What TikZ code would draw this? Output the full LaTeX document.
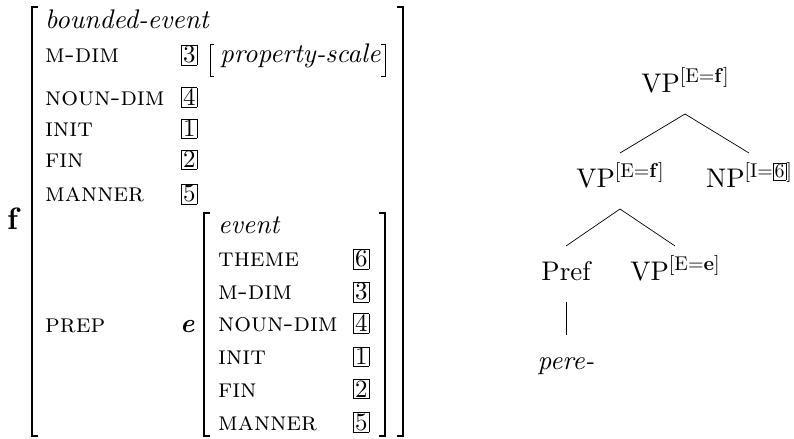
\documentclass[tikz,border=0pt]{standalone}
\usepackage{amsmath}
\usepackage{fontspec}
\setmainfont{lmroman10}[Extension=.otf, UprightFont=*-regular, BoldFont=*-bold,
  ItalicFont=*-italic, BoldItalicFont=*-bolditalic, SmallCapsFont=lmromancaps10-regular]
\usepackage{tikz}

% boxed tags and raised features
\newcommand{\bx}[1]{{\setlength{\fboxsep}{1.2bp}\setlength{\fboxrule}{0.6bp}\fbox{#1}}}
\newcommand{\sfeat}[1]{\raisebox{10bp}{\fontsize{20}{24}\selectfont[#1]}}

\tikzset{
  lbl/.style={inner sep=0pt, anchor=base west, font=\fontsize{27}{32}\selectfont},
  feat/.style={lbl, font=\fontsize{26.5}{32}\selectfont\scshape},
  tagn/.style={lbl, font=\fontsize{25}{30}\selectfont},
  brk/.style={line width=2bp},
  thinbrk/.style={line width=1bp},
  cat/.style={inner sep=0pt, anchor=base, text height=14bp, text depth=0pt,
    outer ysep=21bp, font=\fontsize{27}{32}\selectfont},
  branch/.style={line width=0.7bp}
}

\begin{document}
\begin{tikzpicture}[x=1bp,y=-1bp]
  \useasboundingbox (0,0) rectangle (794,439);

  % outer matrix
  \node[lbl, font=\fontsize{31}{36}\selectfont] (f) at (7,230) {\textbf{f}};
  \draw[brk] (38,7) -- (32,7) -- (32,436) -- (38,436);
  \draw[brk] (397,7) -- (403,7) -- (403,436) -- (397,436);
  \node[lbl] (btype) at (45,29) {\textit{bounded-event}};
  \foreach \f/\t/\y in {m-dim/3/63, noun-dim/4/106, init/1/137, fin/2/168, manner/5/202} {
    \node[feat] (of-\t) at (45,\y) {\f};
    \node[tagn] (ot-\t) at (181,\y) {\bx{\t}};
  }
  \draw[thinbrk] (214,45) -- (210,45) -- (210,77) -- (214,77);
  \draw[thinbrk] (381,45) -- (385,45) -- (385,77) -- (381,77);
  \node[lbl] (scale) at (220,63) {\textit{property-scale}};
  \node[feat] (prep) at (45,333) {prep};

  % inner matrix
  \node[lbl] (e) at (180,333) {\textbf{\textit{e}}};
  \draw[brk] (210,213) -- (204,213) -- (204,436) -- (210,436);
  \draw[brk] (379,213) -- (385,213) -- (385,436) -- (379,436);
  \node[lbl] (etype) at (218,234) {\textit{event}};
  \foreach \f/\t/\y in {theme/6/267, m-dim/3/300, noun-dim/4/332, init/1/365, fin/2/397, manner/5/430} {
    \node[feat] (if-\t) at (218,\y) {\f};
    \node[tagn] (it-\t) at (353,\y) {\bx{\t}};
  }

  % tree
  \node[cat] (vp0) at (685,93) {VP\sfeat{E=\textbf{f}}};
  \node[cat] (vp1) at (620,188) {VP\sfeat{E=\textbf{f}}};
  \node[cat] (np) at (749,188) {NP\sfeat{I=\bx{6}}};
  \node[cat] (pref) at (566,281) {Pref};
  \node[cat] (vp2) at (675,281) {VP\sfeat{E=\textbf{e}}};
  \node[cat] (pere) at (566,370) {\textit{pere-}};
  \draw[branch] (vp0.south) -- (vp1.north);
  \draw[branch] (vp0.south) -- (np.north);
  \draw[branch] (vp1.south) -- (pref.north);
  \draw[branch] (vp1.south) -- (vp2.north);
  \draw[branch] (pref.south) -- (pere.north);
\end{tikzpicture}
\end{document}
